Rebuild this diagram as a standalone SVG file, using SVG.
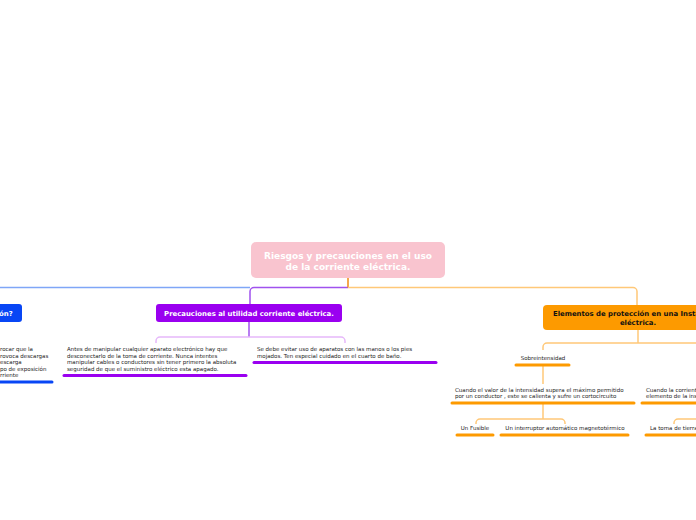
<svg xmlns="http://www.w3.org/2000/svg" width="696" height="520" viewBox="0 0 696 520">
<style>
.t{font-family:"DejaVu Sans",Verdana,sans-serif;font-size:5.5px;fill:#222}
.h{font-family:"DejaVu Sans",Verdana,sans-serif;font-weight:bold}
.c{fill:none;stroke-width:1.5}
.u{stroke-width:3;stroke-linecap:round;fill:none}
</style>
<rect width="696" height="520" fill="#fff"/>
<g id="connectors">
<path class="c" d="M0 287.5H250" stroke="#7fa6f7"/>
<path class="c" d="M348 287.5H254a4 4 0 0 0-4 4V305" stroke="#a052ee"/>
<path class="c" d="M348 278V287.5" stroke="#f08a10"/>
<path class="c" d="M348 287.5H633a4 4 0 0 1 4 4V305" stroke="#ffc878"/>
<path class="c" d="M249 322V337" stroke="#a052ee"/>
<path class="c" d="M156 343V341a4 4 0 0 1 4-4H341a4 4 0 0 1 4 4V343" stroke="#e6b8fa"/>
<path class="c" d="M638 330V343" stroke="#ffc878"/>
<path class="c" d="M543 350V347a4 4 0 0 1 4-4H696" stroke="#ffc878"/>
<path class="c" d="M543 365V384" stroke="#ffc878"/>
<path class="c" d="M543 403V419" stroke="#ffc878"/>
<path class="c" d="M476 424V423a4 4 0 0 1 4-4H561a4 4 0 0 1 4 4V424" stroke="#ffc878"/>
<path class="c" d="M674 424V423a4 4 0 0 1 4-4H696" stroke="#ffc878"/>
</g>
<g id="root">
<rect x="251" y="242" width="194" height="36" rx="5" fill="#f9c4cf"/>
<text class="h" x="348" y="259" font-size="9" fill="#fff" text-anchor="middle">Riesgos y precauciones en el uso</text>
<text class="h" x="348" y="270" font-size="9" fill="#fff" text-anchor="middle">de la corriente eléctrica.</text>
</g>
<g id="node-blue">
<rect x="-20" y="304" width="42" height="18" rx="3" fill="#0846f5"/>
<text class="h" x="-1" y="316" font-size="6.9" fill="#fff">ón?</text>
</g>
<g id="blue-child">
<text class="t" x="0" y="351">rocar que la</text>
<text class="t" x="0" y="357.5">rovoca descargas</text>
<text class="t" x="0" y="364">escarga</text>
<text class="t" x="0" y="370.5">po de exposición</text>
<text class="t" x="0" y="377">rriente</text>
<path class="u" d="M-2 382H52" stroke="#0846f5"/>
</g>
<g id="node-purple">
<rect x="156" y="304" width="186" height="18" rx="3" fill="#9a00f0"/>
<text class="h" x="249" y="315.5" font-size="6.9" fill="#fff" text-anchor="middle">Precauciones al utilidad corriente eléctrica.</text>
</g>
<g id="purple-child-1">
<text class="t" x="67" y="351">Antes de manipular cualquier aparato electrónico hay que</text>
<text class="t" x="67" y="357.5">desconectarlo de la toma de corriente. Nunca intentes</text>
<text class="t" x="67" y="364">manipular cables o conductores sin tener primero la absoluta</text>
<text class="t" x="67" y="370.5">seguridad de que el suministro eléctrico esta apagado.</text>
<path class="u" d="M64 375.5H246" stroke="#9a00f0"/>
</g>
<g id="purple-child-2">
<text class="t" x="257" y="351">Se debe evitar uso de aparatos con las manos o los pies</text>
<text class="t" x="257" y="357.5">mojados. Ten especial cuidado en el cuarto de baño.</text>
<path class="u" d="M254 362.5H436" stroke="#9a00f0"/>
</g>
<g id="node-orange">
<rect x="543" y="305" width="190" height="25" rx="4" fill="#fd9a00"/>
<text class="h" x="638" y="316" font-size="6.9" fill="#111" text-anchor="middle">Elementos de protección en una Instalación</text>
<text class="h" x="638" y="325" font-size="6.9" fill="#111" text-anchor="middle">eléctrica.</text>
</g>
<g id="sobreintensidad">
<text class="t" x="543" y="360" text-anchor="middle">Sobreintensidad</text>
<path class="u" d="M516 365H569" stroke="#fd9a00"/>
</g>
<g id="cuando-valor">
<text class="t" x="455" y="391.5">Cuando el valor de la intensidad supera el máximo permitido</text>
<text class="t" x="455" y="398">por un conductor , este se calienta y sufre un cortocircuito</text>
<path class="u" d="M452 403H634" stroke="#fd9a00"/>
</g>
<g id="cuando-corriente">
<text class="t" x="646" y="391.5">Cuando la corriente</text>
<text class="t" x="646" y="398">elemento de la instalación</text>
<path class="u" d="M642 403H700" stroke="#fd9a00"/>
</g>
<g id="fusible">
<text class="t" x="475" y="430" text-anchor="middle">Un Fusible</text>
<path class="u" d="M457 435H493" stroke="#fd9a00"/>
</g>
<g id="interruptor">
<text class="t" x="565" y="430" text-anchor="middle">Un interruptor automático magnetotérmico</text>
<path class="u" d="M501 435H628" stroke="#fd9a00"/>
</g>
<g id="toma-tierra">
<text class="t" x="650" y="430">La toma de tierra</text>
<path class="u" d="M646 435H700" stroke="#fd9a00"/>
</g>
</svg>
